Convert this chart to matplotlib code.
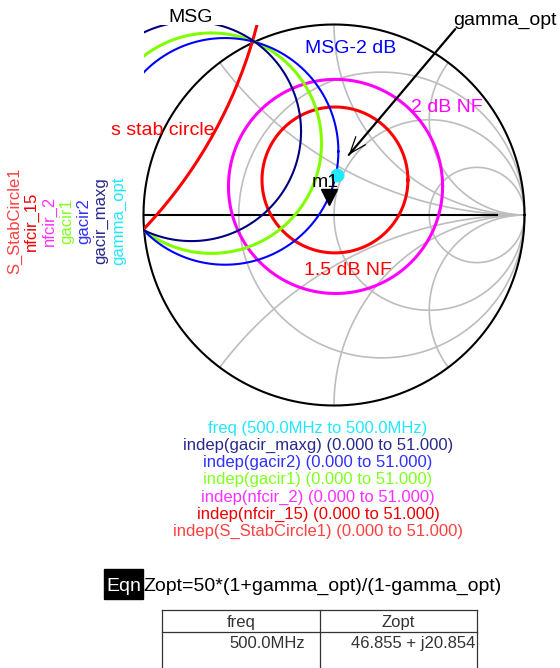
import numpy as np
import matplotlib
matplotlib.use("Agg")
import matplotlib.pyplot as plt
from matplotlib.patches import Rectangle

plt.rcParams['font.family'] = ['Liberation Sans', 'DejaVu Sans']

# circles in the gamma plane: centre (re, im) and radius
trace_names = ["S_StabCircle1", "nfcir_15", "nfcir_2", "gacir1", "gacir2", "gacir_maxg"]
centre_re = [-2.785, 0.005, 0.008, -0.644, -0.572, -0.749]
centre_im = [1.617, 0.184, 0.150, 0.377, 0.334, 0.439]
radius = [2.46, 0.383, 0.562, 0.5785, 0.595, 0.576]

# optimum source impedance (Eqn + listing)
z0 = 50.0
zopt_re = 46.855
zopt_im = 20.854
freq_label = "500.0MHz"
indep_lo, indep_hi = 0.000, 51.000

# marker m1 sits on gacir2 (angle on that circle, degrees)
m1_angle = -24.0

# smith grid
grid_r = [1 / 3, 1, 3]
grid_x = [0.5, 1, 2]

trace_colors = ['#ff0000', '#ff0000', '#ff00ff', '#80ff00', '#0000ff', '#000080']
trace_widths = [2.2, 2.2, 2.2, 2.2, 1.5, 1.5]
legend_colors = ['#ff4040', '#ee0000', '#ff30ff', '#80ff20', '#3030ff', '#2a2a8a', '#20e8ff']

W, H = 560, 668
CX, CY, R = 334, 215, 190.5


# pixel position -> gamma plane coords
def g(px, py):
    return (px - CX) / R, (CY - py) / R


fig = plt.figure(figsize=(W / 100, H / 100), dpi=100)
ax = fig.add_axes([0, 0, 1, 1])
ax.set_xlim(g(0, 0)[0], g(W, 0)[0])
ax.set_ylim(g(0, H)[1], g(0, 0)[1])
ax.axis('off')

grey = '#bdbdbd'
t = np.linspace(-np.pi / 2 + 1e-4, np.pi / 2 - 1e-4, 3000)
for r in grid_r:
    z = r + 1j * np.tan(t)
    gam = (z - 1) / (z + 1)
    ax.plot(gam.real, gam.imag, color=grey, lw=1.2, zorder=1)
rr = np.tan(np.linspace(0, np.pi / 2 - 1e-4, 2000))
for x in grid_x:
    for s in (1, -1):
        z = rr + 1j * s * x
        gam = (z - 1) / (z + 1)
        ax.plot(gam.real, gam.imag, color=grey, lw=1.2, zorder=1)
ax.plot([-1, 1], [0, 0], color=grey, lw=1.2, zorder=1)

th = np.linspace(0, 2 * np.pi, 721)
ax.plot(np.cos(th), np.sin(th), color='black', lw=1.5, zorder=2)
ax.plot([-1, g(497, 0)[0]], [0, 0], color='black', lw=1.5, zorder=2)

# traces, clipped to the chart box
clip = Rectangle((-1, -1), 2, 2, transform=ax.transData)
for i in range(len(trace_names)):
    c = complex(centre_re[i], centre_im[i])
    pts = c + radius[i] * np.exp(1j * th)
    line, = ax.plot(pts.real, pts.imag, color=trace_colors[i], lw=trace_widths[i], zorder=3)
    line.set_clip_path(clip)

zl = complex(zopt_re, zopt_im) / z0
gopt = (zl - 1) / (zl + 1)
ax.plot(gopt.real, gopt.imag, 'o', color='#20e8ff', ms=9, zorder=5)

k = trace_names.index("gacir2")
m1 = complex(centre_re[k], centre_im[k]) + radius[k] * np.exp(1j * np.radians(m1_angle))
ax.plot(m1.real, m1.imag, 'v', color='black', ms=11, zorder=6)
ax.text(*g(325.5, 187), "m1", fontsize=14, ha='center', va='baseline', zorder=6)

# labels on the chart
lab = dict(fontsize=14, ha='center', va='baseline', zorder=7)
ax.text(*g(190.5, 22), "MSG", color='black', **lab)
ax.text(*g(351, 53), "MSG-2 dB", color='#0000ff', **lab)
ax.text(*g(163, 135), "s stab circle", color='#ff0000', **lab)
ax.text(*g(447, 112), "2 dB NF", color='#ff00ff', **lab)
ax.text(*g(347.5, 275), "1.5 dB NF", color='#ff0000', **lab)
ax.text(*g(505, 25), "gamma_opt", color='black', **lab)

ax.annotate("", xy=g(347, 157), xytext=g(457, 27),
            arrowprops=dict(arrowstyle='-', color='black', lw=1.6), zorder=7)
ax.annotate("", xy=g(347, 157), xytext=g(352, 151),
            arrowprops=dict(arrowstyle='->, head_length=1.2, head_width=0.45',
                            color='black', lw=0.9), zorder=7)

# rotated legend at the left
left_labels = trace_names + ["gamma_opt"]
for i, name in enumerate(left_labels):
    ax.text(*g(14.5 + 17.3 * i, 221), name, rotation=90, fontsize=12,
            color=legend_colors[i], ha='center', va='center')

# sweep legend under the chart
rng = f"({indep_lo:.3f} to {indep_hi:.3f})"
bottom_lines = [(f"freq ({freq_label} to {freq_label})", legend_colors[6])]
for i in range(len(trace_names) - 1, -1, -1):
    bottom_lines.append((f"indep({trace_names[i]}) {rng}", legend_colors[i]))
for i, (txt, col) in enumerate(bottom_lines):
    ax.text(*g(318, 432.5 + 17.3 * i), txt, fontsize=12, color=col,
            ha='center', va='baseline')

# equation
ax.text(*g(123.5, 591), "Eqn", fontsize=14, color='white', ha='center', va='baseline',
        zorder=8)
x0, y0 = g(104, 599)
x1, y1 = g(142.5, 569)
ax.add_patch(Rectangle((x0, y0), x1 - x0, y1 - y0, color='black', zorder=7))
ax.text(*g(143.5, 591), f"Zopt={z0:g}*(1+gamma_opt)/(1-gamma_opt)", fontsize=14,
        color='black', ha='left', va='baseline')

# listing table
tc = '#333333'
for (a, b) in [((162, 609.5), (477, 609.5)), ((162, 632), (477, 632)),
               ((162, 609.5), (162, 668)), ((320, 609.5), (320, 668)),
               ((477, 609.5), (477, 668))]:
    pa, pb = g(*a), g(*b)
    ax.plot([pa[0], pb[0]], [pa[1], pb[1]], color=tc, lw=0.9)
ax.text(*g(241, 627), "freq", fontsize=12, color=tc, ha='center', va='baseline')
ax.text(*g(398.5, 627), "Zopt", fontsize=12, color=tc, ha='center', va='baseline')
ax.text(*g(305, 648), freq_label, fontsize=12, color=tc, ha='right', va='baseline')
ax.text(*g(475, 648), f"{zopt_re:.3f} + j{zopt_im:.3f}", fontsize=12, color=tc,
        ha='right', va='baseline')

fig.savefig("out.png", dpi=100)
